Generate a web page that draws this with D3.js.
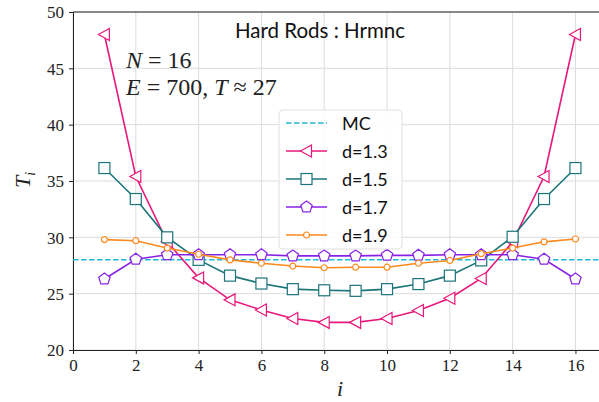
<!DOCTYPE html>
<html>
<head>
<meta charset="utf-8">
<script src="https://cdn.jsdelivr.net/npm/d3@7"></script>
<style>
  body { margin: 0; background: #fff; }
  svg { display: block; }
  .tick text { font-family: "Liberation Serif", serif; font-size: 17px; fill: #222; }
</style>
</head>
<body>
<svg id="chart"></svg>
<script>
// data
const sites = d3.range(1, 17)
const mcValue = 28.0
const d13 = [48.0, 35.4, 29.6, 26.4, 24.45, 23.55, 22.8, 22.45, 22.45, 22.8, 23.5, 24.6, 26.35, 29.6, 35.4, 48.0]
const d15 = [36.15, 33.4, 30.0, 28.0, 26.6, 25.9, 25.4, 25.3, 25.25, 25.4, 25.85, 26.6, 27.95, 30.05, 33.4, 36.15]
const d17 = [26.3, 28.05, 28.45, 28.45, 28.45, 28.45, 28.35, 28.35, 28.35, 28.4, 28.4, 28.45, 28.45, 28.45, 28.05, 26.3]
const d19 = [29.8, 29.7, 29.05, 28.5, 28.0, 27.7, 27.45, 27.3, 27.35, 27.35, 27.7, 27.95, 28.55, 29.05, 29.6, 29.85]
const xTicks = [0, 2, 4, 6, 8, 10, 12, 14, 16]
const yTicks = [20, 25, 30, 35, 40, 45, 50]

const series = [
  { label: "d=1.3", values: d13, color: "#e8187a", marker: "tri" },
  { label: "d=1.5", values: d15, color: "#1b7479", marker: "square" },
  { label: "d=1.7", values: d17, color: "#8a22e6", marker: "pent" },
  { label: "d=1.9", values: d19, color: "#fa8a1e", marker: "dot" }
]
const mcColor = "#1fb8d6"

// dimension setting
const width = 599
const height = 402
const margin = { top: 12, right: 0, bottom: 52, left: 73 }

const svg = d3.select("#chart")
  .attr("width", width)
  .attr("height", height)

const x = d3.scaleLinear().domain([0, 16.75]).range([margin.left, width - margin.right])
const y = d3.scaleLinear().domain([20, 50]).range([height - margin.bottom, margin.top])

// grid
svg.append("g")
  .selectAll("line.vg")
  .data(xTicks)
  .join("line")
  .attr("x1", d => x(d)).attr("x2", d => x(d))
  .attr("y1", y(20)).attr("y2", y(50))
  .attr("stroke", "#dcdcdc").attr("stroke-width", 1)

svg.append("g")
  .selectAll("line.hg")
  .data(yTicks)
  .join("line")
  .attr("x1", x(0)).attr("x2", width)
  .attr("y1", d => y(d)).attr("y2", d => y(d))
  .attr("stroke", "#dcdcdc").attr("stroke-width", 1)

// axes
const xAxis = svg.append("g")
  .attr("transform", `translate(0,${y(20)})`)
  .call(d3.axisBottom(x).tickValues(xTicks).tickSize(4).tickPadding(5).tickFormat(d3.format("d")))
const yAxis = svg.append("g")
  .attr("transform", `translate(${x(0)},0)`)
  .call(d3.axisLeft(y).tickValues(yTicks).tickSize(4).tickPadding(5).tickFormat(d3.format("d")))
xAxis.select(".domain").attr("stroke", "#222")
yAxis.select(".domain").attr("stroke", "#222")
xAxis.selectAll(".tick line").attr("stroke", "#222")
yAxis.selectAll(".tick line").attr("stroke", "#222")
yAxis.selectAll(".tick text").attr("dy", "0.35em")

// top spine
svg.append("line")
  .attr("x1", x(0)).attr("x2", width)
  .attr("y1", y(50)).attr("y2", y(50))
  .attr("stroke", "#222").attr("stroke-width", 1)

// MC reference line
svg.append("line")
  .attr("x1", x(0)).attr("x2", width)
  .attr("y1", y(mcValue)).attr("y2", y(mcValue))
  .attr("stroke", mcColor).attr("stroke-width", 1.5)
  .attr("stroke-dasharray", "5.5,2.5")

// marker drawing
function drawMarker(g, type, color) {
  if (type === "tri") {
    g.append("path").attr("d", "M-6,0 L5,-6 L5,6 Z")
      .attr("fill", "#fff").attr("stroke", color).attr("stroke-width", 1.2)
  } else if (type === "square") {
    g.append("rect").attr("x", -5.5).attr("y", -5.5).attr("width", 11).attr("height", 11)
      .attr("fill", "#fff").attr("stroke", color).attr("stroke-width", 1.2)
  } else if (type === "pent") {
    const pts = d3.range(5).map(k => {
      const a = -Math.PI / 2 + k * 2 * Math.PI / 5
      return [6 * Math.cos(a), 6 * Math.sin(a)]
    })
    g.append("path").attr("d", "M" + pts.join("L") + "Z")
      .attr("fill", "#fff").attr("stroke", color).attr("stroke-width", 1.2)
  } else {
    g.append("circle").attr("r", 3)
      .attr("fill", "#fff").attr("stroke", color).attr("stroke-width", 1.2)
  }
}

const line = d3.line().x((d, i) => x(sites[i])).y(d => y(d))

series.forEach(s => {
  svg.append("path")
    .datum(s.values)
    .attr("d", line)
    .attr("fill", "none")
    .attr("stroke", s.color)
    .attr("stroke-width", 1.6)
  s.values.forEach((v, i) => {
    const g = svg.append("g").attr("transform", `translate(${x(sites[i])},${y(v)})`)
    drawMarker(g, s.marker, s.color)
  })
})

// title and annotations
svg.append("text")
  .attr("x", 320).attr("y", 38)
  .attr("text-anchor", "middle")
  .attr("font-family", "Lato, sans-serif")
  .attr("font-size", 20.5)
  .attr("fill", "#111")
  .text("Hard Rods : Hrmnc")

const ann = svg.append("g")
  .attr("font-family", "Liberation Serif, serif")
  .attr("font-size", 24)
  .attr("fill", "#222")
const t1 = ann.append("text").attr("x", 126).attr("y", 68)
t1.append("tspan").attr("font-style", "italic").text("N")
t1.append("tspan").text(" = 16")
const t2 = ann.append("text").attr("x", 126).attr("y", 95)
t2.append("tspan").attr("font-style", "italic").text("E")
t2.append("tspan").text(" = 700, ")
t2.append("tspan").attr("font-style", "italic").text("T")
t2.append("tspan").text(" ≈ 27")

// axis labels
svg.append("text")
  .attr("x", 340).attr("y", 396)
  .attr("text-anchor", "middle")
  .attr("font-family", "Liberation Serif, serif")
  .attr("font-style", "italic")
  .attr("font-size", 22)
  .attr("fill", "#222")
  .text("i")

const yl = svg.append("text")
  .attr("transform", "translate(30,180) rotate(-90)")
  .attr("text-anchor", "middle")
  .attr("font-family", "Liberation Serif, serif")
  .attr("font-style", "italic")
  .attr("font-size", 22)
  .attr("fill", "#222")
yl.append("tspan").text("T")
yl.append("tspan").attr("font-size", 14).attr("dy", 5).text("i")

// legend
const legend = svg.append("g").attr("transform", "translate(279,110)")
legend.append("rect")
  .attr("width", 123).attr("height", 139)
  .attr("rx", 4)
  .attr("fill", "#fff").attr("fill-opacity", 0.85)
  .attr("stroke", "#e0e0e0")

const legendItems = [{ label: "MC", color: mcColor, marker: null }].concat(series)
legendItems.forEach((s, k) => {
  const g = legend.append("g").attr("transform", `translate(0,${13 + k * 28})`)
  g.append("line")
    .attr("x1", 7).attr("x2", 48)
    .attr("stroke", s.color).attr("stroke-width", s.marker ? 1.6 : 1.5)
    .attr("stroke-dasharray", s.marker ? null : "5.5,2.5")
  if (s.marker) {
    const m = g.append("g").attr("transform", "translate(27.5,0)")
    drawMarker(m, s.marker, s.color)
  }
  g.append("text")
    .attr("x", 63).attr("y", 6.5)
    .attr("font-family", "Lato, sans-serif")
    .attr("font-size", 18)
    .attr("fill", "#111")
    .text(s.label)
})
</script>
</body>
</html>
